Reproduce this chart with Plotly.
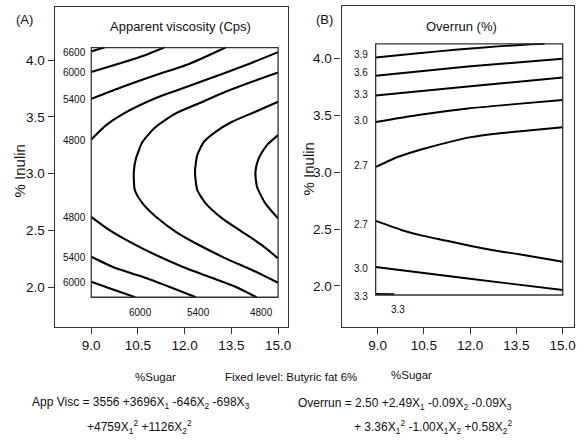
import plotly.graph_objects as go

# ---------------- Data ----------------
# Panel A - Apparent viscosity (Cps): contour lines as (% sugar, % inulin)
visc_6600_upper_sugar = [9.0, 9.20, 9.425]
visc_6600_upper_inulin = [4.075, 4.093, 4.11]
visc_6000_upper_sugar = [9.0, 10.01, 10.703, 11.342]
visc_6000_upper_inulin = [3.894, 3.978, 4.040, 4.11]
visc_5400_upper_sugar = [9.0, 10.01, 11.077, 12.141, 13.313]
visc_5400_upper_inulin = [3.658, 3.765, 3.868, 3.965, 4.11]
visc_4800_upper_sugar = [9.0, 9.479, 10.01, 11.077, 12.141, 13.204, 14.058, 15.0]
visc_4800_upper_inulin = [3.300, 3.427, 3.524, 3.665, 3.771, 3.877, 3.965, 4.070]

visc_u1_sugar = [15.0, 14.163, 13.313, 12.460, 11.716, 11.077, 10.649, 10.438, 10.367,
                 10.399, 10.649, 11.077, 11.716, 12.460, 13.313, 14.163, 15.0]
visc_u1_inulin = [3.890, 3.809, 3.721, 3.619, 3.530, 3.412, 3.280, 3.134, 3.013,
                  2.855, 2.737, 2.619, 2.487, 2.370, 2.253, 2.150, 2.038]
visc_u2_sugar = [15.0, 14.272, 13.524, 12.994, 12.620, 12.406, 12.332,
                 12.406, 12.674, 13.204, 13.843, 14.482, 15.0]
visc_u2_inulin = [3.633, 3.545, 3.456, 3.368, 3.280, 3.163, 3.013,
                  2.855, 2.737, 2.605, 2.487, 2.370, 2.253]
visc_u3_sugar = [15.0, 14.642, 14.377, 14.272, 14.323, 14.591, 15.0]
visc_u3_inulin = [3.339, 3.251, 3.134, 3.013, 2.884, 2.737, 2.605]

visc_4800_lower_sugar = [9.0, 9.585, 10.329, 11.077, 11.927, 12.780, 13.633, 14.31]
visc_4800_lower_inulin = [2.619, 2.502, 2.385, 2.282, 2.179, 2.091, 2.003, 1.91]
visc_5400_lower_sugar = [9.0, 9.799, 10.649, 11.502, 12.364]
visc_5400_lower_inulin = [2.267, 2.165, 2.091, 2.003, 1.91]
visc_6000_lower_sugar = [9.0, 9.585, 10.415]
visc_6000_lower_inulin = [2.047, 1.989, 1.91]

visc_left_labels = ["6600", "6000", "5400", "4800", "4800", "5400", "6000"]
visc_left_label_inulin = [4.064, 3.888, 3.648, 3.295, 2.614, 2.262, 2.038]
visc_bottom_labels = ["6000", "5400", "4800"]
visc_bottom_label_sugar = [10.597, 12.46, 14.48]

# Panel B - Overrun (%): contour lines as (% sugar, % inulin)
over_39_upper_sugar = [8.935, 10.313, 11.603, 12.894, 13.861, 14.410]
over_39_upper_inulin = [4.007, 4.044, 4.077, 4.104, 4.121, 4.126]
over_36_upper_sugar = [8.935, 11.926, 15.0]
over_36_upper_inulin = [3.847, 3.928, 3.996]
over_33_upper_sugar = [8.935, 11.926, 15.0]
over_33_upper_inulin = [3.673, 3.752, 3.831]
over_30_upper_sugar = [8.935, 10.313, 11.926, 13.539, 15.0]
over_30_upper_inulin = [3.440, 3.502, 3.559, 3.599, 3.634]
over_27_upper_sugar = [8.935, 9.668, 10.410, 11.281, 12.023, 12.894, 13.635, 15.0]
over_27_upper_inulin = [3.045, 3.135, 3.199, 3.262, 3.307, 3.339, 3.359, 3.394]
over_27_lower_sugar = [8.935, 9.765, 10.410, 11.281, 12.023, 12.894, 13.635, 15.0]
over_27_lower_inulin = [2.571, 2.492, 2.444, 2.395, 2.351, 2.307, 2.277, 2.213]
over_30_lower_sugar = [8.935, 11.926, 15.0]
over_30_lower_inulin = [2.167, 2.066, 1.965]
over_33_lower_sugar = [8.935, 9.539]
over_33_lower_inulin = [1.930, 1.927]

over_left_labels = ["3.9", "3.6", "3.3", "3.0", "2.7", "2.7", "3.0", "3.3"]
over_left_label_inulin = [4.029, 3.874, 3.686, 3.452, 3.057, 2.542, 2.155, 1.906]
over_bottom_labels = ["3.3"]
over_bottom_label_sugar = [9.668]

sugar_ticks = [9.0, 10.5, 12.0, 13.5, 15.0]
inulin_ticks = [2.0, 2.5, 3.0, 3.5, 4.0]

# ---------------- Figure ----------------
W, H = 587, 443
FONT = "Arial, Liberation Sans, sans-serif"
LINE = "#000000"

fig = go.Figure()

visc_lines = [
    (visc_6600_upper_sugar, visc_6600_upper_inulin),
    (visc_6000_upper_sugar, visc_6000_upper_inulin),
    (visc_5400_upper_sugar, visc_5400_upper_inulin),
    (visc_4800_upper_sugar, visc_4800_upper_inulin),
    (visc_u1_sugar, visc_u1_inulin),
    (visc_u2_sugar, visc_u2_inulin),
    (visc_u3_sugar, visc_u3_inulin),
    (visc_4800_lower_sugar, visc_4800_lower_inulin),
    (visc_5400_lower_sugar, visc_5400_lower_inulin),
    (visc_6000_lower_sugar, visc_6000_lower_inulin),
]
for xs, ys in visc_lines:
    fig.add_trace(go.Scatter(x=xs, y=ys, mode="lines", xaxis="x", yaxis="y",
                             line=dict(color=LINE, width=2.1, shape="spline", smoothing=0.6),
                             hoverinfo="skip", showlegend=False))

over_lines = [
    (over_39_upper_sugar, over_39_upper_inulin),
    (over_36_upper_sugar, over_36_upper_inulin),
    (over_33_upper_sugar, over_33_upper_inulin),
    (over_30_upper_sugar, over_30_upper_inulin),
    (over_27_upper_sugar, over_27_upper_inulin),
    (over_27_lower_sugar, over_27_lower_inulin),
    (over_30_lower_sugar, over_30_lower_inulin),
    (over_33_lower_sugar, over_33_lower_inulin),
]
for xs, ys in over_lines:
    fig.add_trace(go.Scatter(x=xs, y=ys, mode="lines", xaxis="x2", yaxis="y2",
                             line=dict(color=LINE, width=1.9, shape="spline", smoothing=0.6),
                             hoverinfo="skip", showlegend=False))

# inner plotting boxes
fig.add_shape(type="rect", xref="x", yref="y", x0=9.0, x1=15.0, y0=1.91, y1=4.11,
              line=dict(color="#333333", width=1.3), layer="above")
fig.add_shape(type="rect", xref="x2", yref="y2", x0=8.935, x1=15.0, y0=1.921, y1=4.126,
              line=dict(color="#333333", width=1.3), layer="above")

ann = []
label_font = dict(family=FONT, size=10, color="#111111")
for t, yv in zip(visc_left_labels, visc_left_label_inulin):
    ann.append(dict(xref="x", yref="y", x=8.88, y=yv, text=t, showarrow=False,
                    xanchor="right", yanchor="middle", font=label_font))
for t, xv in zip(visc_bottom_labels, visc_bottom_label_sugar):
    ann.append(dict(xref="x", yref="y", x=xv, y=1.774, text=t, showarrow=False,
                    xanchor="center", yanchor="middle", font=label_font))
for t, yv in zip(over_left_labels, over_left_label_inulin):
    ann.append(dict(xref="x2", yref="y2", x=8.74, y=yv, text=t, showarrow=False,
                    xanchor="right", yanchor="middle", font=label_font))
for t, xv in zip(over_bottom_labels, over_bottom_label_sugar):
    ann.append(dict(xref="x2", yref="y2", x=xv, y=1.795, text=t, showarrow=False,
                    xanchor="center", yanchor="middle", font=label_font))


def P(px, py, text, size=13, xanchor="center", angle=0):
    ann.append(dict(xref="paper", yref="paper", x=px / W, y=1 - py / H, text=text,
                    showarrow=False, xanchor=xanchor, yanchor="middle", textangle=angle,
                    font=dict(family=FONT, size=size, color="#111111")))


P(181.2, 26.7, "Apparent viscosity (Cps)", 13)
P(464.3, 26.7, "Overrun (%)", 13)
P(24.5, 20, "(A)", 13)
P(326.5, 20, "(B)", 13)
P(19.5, 171, "% Inulin", 15, angle=-90)
P(310, 169, "% Inulin", 15, angle=-90)
P(156.7, 377, "%Sugar", 11.5)
P(414, 375, "%Sugar", 11.5)
P(292, 377, "Fixed level: Butyric fat 6%", 11.5)
P(141.5, 403, "App Visc = 3556 +3696X<sub>1</sub> -646X<sub>2</sub> -698X<sub>3</sub>", 12)
P(140.5, 427, "+4759X<sub>1</sub><sup>2</sup> +1126X<sub>2</sub><sup>2</sup>", 12)
P(517, 404, "Overrun = 2.50 +2.49X<sub>1</sub> -0.09X<sub>2</sub> -0.09X<sub>3</sub>", 12, xanchor="right")
P(517, 427, "+ 3.36X<sub>1</sub><sup>2</sup> -1.00X<sub>1</sub>X<sub>2</sub> +0.58X<sub>2</sub><sup>2</sup>", 12, xanchor="right")

axis_common = dict(showline=True, mirror=True, linecolor="#333333", linewidth=1.3,
                   ticks="outside", ticklen=6, tickwidth=1, tickcolor="#333333",
                   showgrid=False, zeroline=False, fixedrange=True,
                   tickfont=dict(family=FONT, size=13.5, color="#111111"))

fig.update_layout(
    width=W, height=H,
    margin=dict(l=0, r=0, t=0, b=0),
    paper_bgcolor="white", plot_bgcolor="white",
    showlegend=False,
    xaxis=dict(domain=[55 / W, 289.3 / W], range=[7.827, 15.313],
               tickvals=sugar_ticks, ticktext=[f"{v:.1f}" for v in sugar_ticks],
               anchor="y", **axis_common),
    yaxis=dict(domain=[(H - 327) / H, (H - 6.7) / H], range=[1.648, 4.470],
               tickvals=inulin_ticks, ticktext=[f"{v:.1f}" for v in inulin_ticks],
               anchor="x", **axis_common),
    xaxis2=dict(domain=[343.3 / W, 577.3 / W], range=[7.829, 15.377],
                tickvals=sugar_ticks, ticktext=[f"{v:.1f}" for v in sugar_ticks],
                anchor="y2", **axis_common),
    yaxis2=dict(domain=[(H - 326.7) / H, (H - 6) / H], range=[1.6425, 4.459],
                tickvals=inulin_ticks, ticktext=[f"{v:.1f}" for v in inulin_ticks],
                anchor="x2", **axis_common),
    annotations=ann,
)

fig.write_html("out.html")
